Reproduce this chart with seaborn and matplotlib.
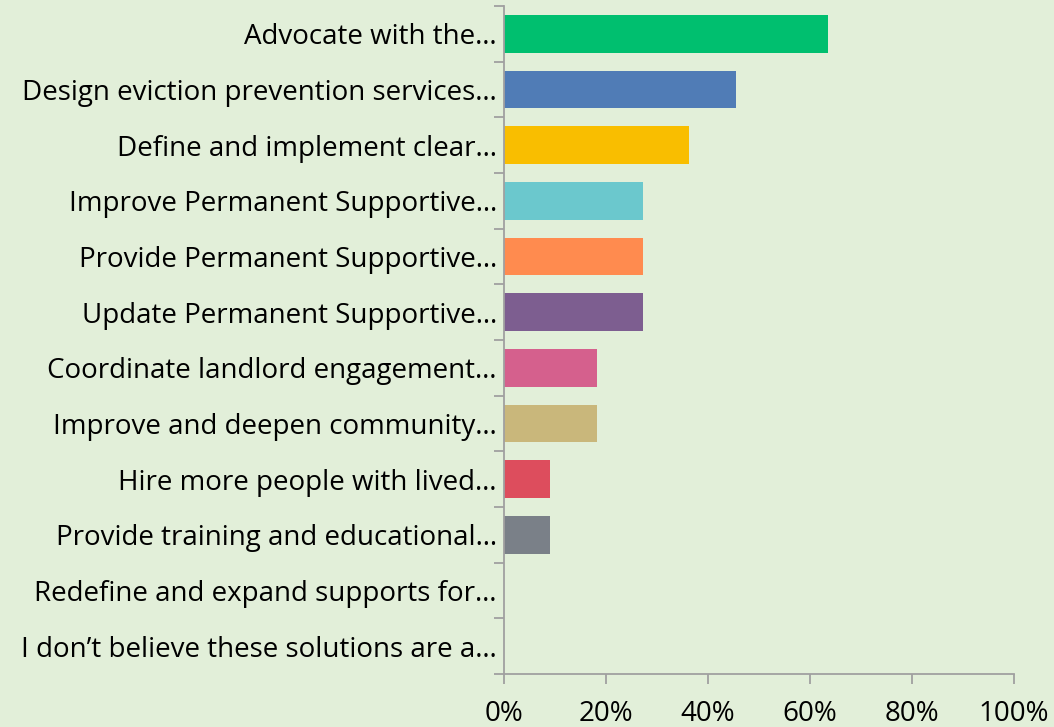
import matplotlib
matplotlib.use("Agg")
import matplotlib.pyplot as plt
import seaborn as sns
import pandas as pd
from matplotlib.ticker import FixedLocator, PercentFormatter

categories = [
    "Advocate with the…",
    "Design eviction prevention services…",
    "Define and implement clear…",
    "Improve Permanent Supportive…",
    "Provide Permanent Supportive…",
    "Update Permanent Supportive…",
    "Coordinate landlord engagement…",
    "Improve and deepen community…",
    "Hire more people with lived…",
    "Provide training and educational…",
    "Redefine and expand supports for…",
    "I don’t believe these solutions are a…",
]
values = [63.64, 45.45, 36.36, 27.27, 27.27, 27.27, 18.18, 18.18, 9.09, 9.09, 0.0, 0.0]
colors = ["#00bf6f", "#507cb6", "#f9be00", "#6bc8cd", "#ff8b4f", "#7d5e90",
          "#d5608d", "#c9b77b", "#dd4d5d", "#7a8088", "#a1a1a1", "#b0b0b0"]
xticks = [0, 20, 40, 60, 80, 100]

bg = "#e2efd9"
sns.set_theme(style="white")
plt.rcParams["font.family"] = ["Open Sans", "DejaVu Sans"]

df = pd.DataFrame({"label": categories, "pct": values})

fig = plt.figure(figsize=(10.54, 7.27), dpi=100, facecolor=bg)
ax = fig.add_axes([0.478, 0.0729, 0.484, 0.9188], facecolor=bg)

sns.barplot(data=df, x="pct", y="label", hue="label", palette=colors,
            order=categories, hue_order=categories, legend=False,
            width=0.68, saturation=1, linewidth=0, ax=ax, orient="h")

ax.set_xlim(0, 100)
ax.set_ylim(len(categories) - 0.5, -0.5)
ax.xaxis.set_major_locator(FixedLocator(xticks))
ax.xaxis.set_major_formatter(PercentFormatter(decimals=0))
ax.set_xlabel("")
ax.set_ylabel("")

spine_c = "#a0a0a0"
for side in ["top", "right"]:
    ax.spines[side].set_visible(False)
for side in ["left", "bottom"]:
    ax.spines[side].set_color(spine_c)
    ax.spines[side].set_linewidth(1.3)

# category ticks sit on the band boundaries; labels stay centred
ax.yaxis.set_major_locator(FixedLocator(range(len(categories))))
ax.set_yticklabels(categories)
ax.yaxis.set_minor_locator(FixedLocator([i - 0.5 for i in range(len(categories) + 1)]))
ax.tick_params(axis="y", which="major", length=0, pad=5, labelsize=20, labelcolor="black")
ax.tick_params(axis="y", which="minor", left=True, length=7, width=1.3, color=spine_c)
ax.tick_params(axis="x", which="major", bottom=True, length=7, width=1.3, color=spine_c,
               pad=12, labelsize=20, labelcolor="black")

fig.savefig("out.png", dpi=100, facecolor=bg)
